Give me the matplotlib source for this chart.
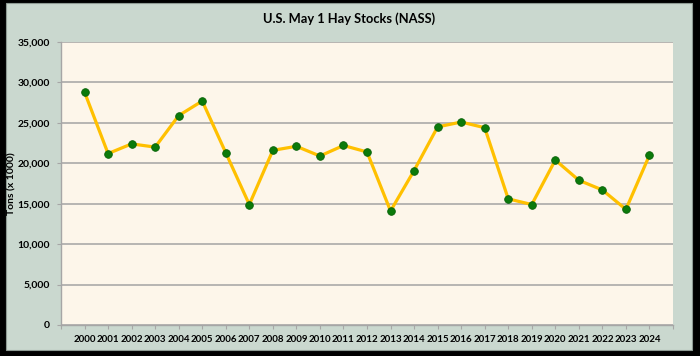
import matplotlib
matplotlib.use("Agg")
import matplotlib.pyplot as plt
from matplotlib.patches import Rectangle
from matplotlib.ticker import FuncFormatter
import numpy as np

plt.rcParams['font.family'] = ['Lato', 'DejaVu Sans']
plt.rcParams['font.weight'] = 'bold'

years = list(range(2000, 2025))
stocks = [28800, 21200, 22400, 22000, 25900, 27700, 21300, 14900, 21600, 22100,
          20900, 22200, 21400, 14100, 19100, 24500, 25100, 24400, 15600, 14900,
          20400, 17900, 16700, 14300, 21000]
title = "U.S. May 1 Hay Stocks (NASS)"
ylabel = "Tons (x 1000)"

W, H = 700, 356
fig = plt.figure(figsize=(W / 100, H / 100), dpi=100, facecolor='black')

# light frame inside the black border
frame = Rectangle((6 / W, 1 - 350 / H), (692 - 6) / W, (350 - 3) / H,
                  transform=fig.transFigure, facecolor='#CAD8CF',
                  edgecolor='#8E9A93', linewidth=0.8, zorder=-5)
fig.add_artist(frame)

ax = fig.add_axes([61 / W, 1 - 325 / H, (673 - 61) / W, (325 - 42) / H])
ax.set_zorder(1)
ax.set_facecolor('#FDF6EA')

ax.plot(years, stocks, color='#FFC000', linewidth=2.3, zorder=3,
        solid_joinstyle='round')
ax.plot(years, stocks, linestyle='none', marker='o', markersize=5.5,
        markerfacecolor='#0B7A0B', markeredgecolor='#086308',
        markeredgewidth=0.6, zorder=4)

ax.set_xlim(1999, 2025)
ax.set_ylim(0, 35000)
ax.set_yticks(np.arange(0, 35001, 5000))
ax.yaxis.set_major_formatter(FuncFormatter(lambda v, p: f"{int(v):,}"))
ax.set_xticks(range(1999, 2026))
ax.set_xticklabels([''] + [str(y) for y in years] + [''])

ax.grid(axis='y', color='#A3A3A3', linewidth=1.1)
ax.set_axisbelow(True)
for s in ['top', 'right']:
    ax.spines[s].set_visible(False)
for s in ['left', 'bottom']:
    ax.spines[s].set_color('#A6A6A6')
    ax.spines[s].set_linewidth(1.0)

ax.tick_params(axis='y', length=3, color='#A6A6A6', pad=5, labelsize=7.5)
ax.tick_params(axis='x', length=3, color='#A6A6A6', pad=4, labelsize=7)
for lab in ax.get_xticklabels() + ax.get_yticklabels():
    lab.set_fontweight('bold')

ax.set_ylabel(ylabel, fontsize=7.5, fontweight='bold')
ax.yaxis.label.set_va('center')
ax.yaxis.set_label_coords((12 - 61) / (673 - 61), 0.5)
fig.text(349 / W, 1 - 19 / H, title, ha='center', va='center',
         fontsize=9.3, fontweight='bold')

fig.savefig("out.png", dpi=100, facecolor=fig.get_facecolor())
